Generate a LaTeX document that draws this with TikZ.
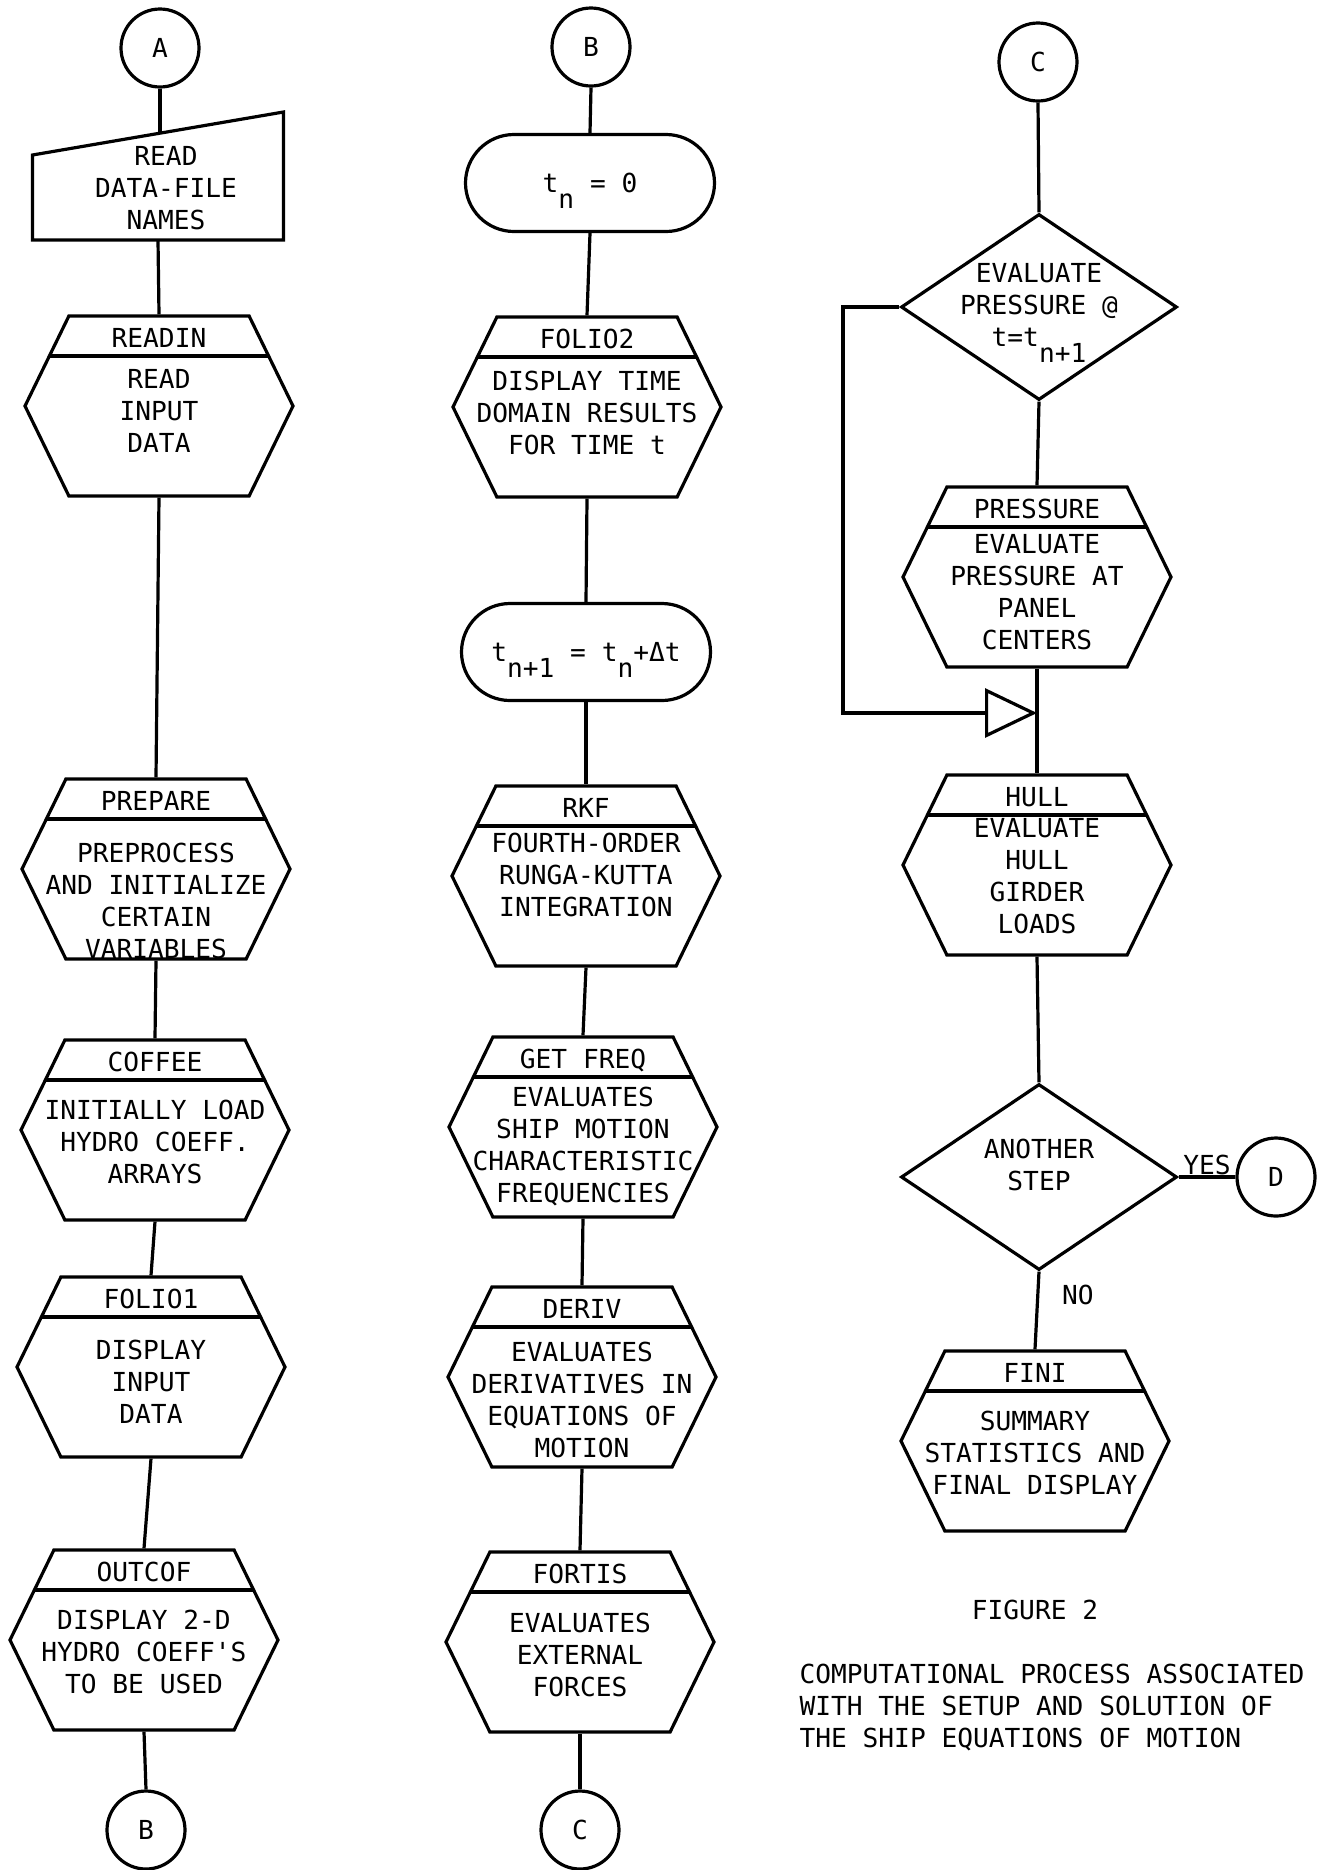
\documentclass[tikz,border=0pt]{standalone}
\usepackage{fontspec}
\setmainfont{DejaVu Sans Mono}
\usetikzlibrary{shapes.geometric,shapes.misc,shapes.symbols,arrows.meta,calc}

\newcommand{\lwr}[1]{\raisebox{-8pt}[0pt][0pt]{#1}}

\begin{document}
\begin{tikzpicture}[
    x=0.5pt, y=-0.5pt,
    line width=1.6pt,
    font=\fontsize{13.1pt}{16pt}\selectfont,
    conn/.style={circle, draw, minimum size=39pt, inner sep=0pt},
    term/.style={rounded rectangle, draw, minimum width=124.5pt, minimum height=48.5pt, inner sep=0pt},
    proc/.style={signal, signal to=west and east, signal pointer angle=128, draw, minimum width=134pt, minimum height=90pt, inner sep=0pt,
        path picture={\draw ([yshift=-20pt]path picture bounding box.north west) -- ([yshift=-20pt]path picture bounding box.north east);}},
    hdr/.style={anchor=north, inner sep=6pt},
    body/.style={align=center, inner sep=0pt},
    decide/.style={diamond, draw, minimum width=138pt, minimum height=93pt, inner sep=0pt},
    inbox/.style={rectangle, minimum width=125.5pt, minimum height=64pt, inner sep=0pt, outer sep=0pt}
]
\useasboundingbox (0,0) rectangle (1326,1870);

% first column
\node[conn] (capA) at (160,48) {A};
\node[inbox] (names) at (158,176) {};
\node[body] (names-t) at (166,188) {READ\\DATA-FILE\\NAMES};
\node[proc, label={[hdr]north:READIN}] (readin) at (159,406) {};
\node[body] (readin-t) at (159,411) {READ\\INPUT\\DATA};
\node[proc, label={[hdr]north:PREPARE}] (prepare) at (156,869) {};
\node[body] (prepare-t) at (156,901) {PREPROCESS\\AND INITIALIZE\\CERTAIN\\VARIABLES};
\node[proc, label={[hdr]north:COFFEE}] (coffee) at (155,1130) {};
\node[body] (coffee-t) at (155,1142) {INITIALLY LOAD\\HYDRO COEFF.\\ARRAYS};
\node[proc, label={[hdr]north:FOLIO1}] (folio1) at (151,1367) {};
\node[body] (folio1-t) at (151,1382) {DISPLAY\\INPUT\\DATA};
\node[proc, label={[hdr]north:OUTCOF}] (outcof) at (144,1640) {};
\node[body] (outcof-t) at (144,1652) {DISPLAY 2-D\\HYDRO COEFF\textquotesingle S\\TO BE USED};
\node[conn] (capB1) at (146,1830) {B};

% second column
\node[conn] (capB2) at (591,47) {B};
\node[term] (tzero) at (590,183) {t\lwr{n} = 0};
\node[proc, label={[hdr]north:FOLIO2}] (folio2) at (587,407) {};
\node[body] (folio2-t) at (587,413) {DISPLAY TIME\\DOMAIN RESULTS\\FOR TIME t};
\node[term] (tnext) at (586,652) {t\lwr{n+1} = t\lwr{n}+Δt};
\node[proc, label={[hdr]north:RKF}] (rkf) at (586,876) {};
\node[body] (rkf-t) at (586,875) {FOURTH-ORDER\\RUNGA-KUTTA\\INTEGRATION};
\node[proc, label={[hdr]north:GET FREQ}] (getfreq) at (583,1127) {};
\node[body] (getfreq-t) at (583,1146) {EVALUATES\\SHIP MOTION\\CHARACTERISTIC\\FREQUENCIES};
\node[proc, label={[hdr]north:DERIV}] (deriv) at (582,1377) {};
\node[body] (deriv-t) at (582,1400) {EVALUATES\\DERIVATIVES IN\\EQUATIONS OF\\MOTION};
\node[proc, label={[hdr]north:FORTIS}] (fortis) at (580,1642) {};
\node[body] (fortis-t) at (580,1655) {EVALUATES\\EXTERNAL\\FORCES};
\node[conn] (capC2) at (580,1830) {C};

% third column
\node[conn] (capC3) at (1038,62) {C};
\node[decide] (evalp) at (1039,307) {};
\node[body] (evalp-t) at (1039,305) {EVALUATE\\PRESSURE @\\t=t\lwr{n+1}};
\node[proc, label={[hdr]north:PRESSURE}] (pressure) at (1037,577) {};
\node[body] (pressure-t) at (1037,592) {EVALUATE\\PRESSURE AT\\PANEL\\CENTERS};
\node[proc, label={[hdr]north:HULL}] (hull) at (1037,865) {};
\node[body] (hull-t) at (1037,876) {EVALUATE\\HULL\\GIRDER\\LOADS};
\node[decide] (another) at (1039,1177) {};
\node[body] (another-t) at (1039,1165) {ANOTHER\\STEP};
\node[conn] (capD) at (1276,1177) {D};
\node[proc, label={[hdr]north:FINI}] (fini) at (1035,1441) {};
\node[body] (fini-t) at (1035,1453) {SUMMARY\\STATISTICS AND\\FINAL DISPLAY};

\node (fig) at (1035,1610) {FIGURE 2};
\node[align=left, anchor=north west, inner sep=0pt] (caption) at (798,1662) {COMPUTATIONAL PROCESS ASSOCIATED\\WITH THE SETUP AND SOLUTION OF\\THE SHIP EQUATIONS OF MOTION};

% manual input outline
\draw (names.south west) -- (names.south east) -- (names.north east) -- ($(names.north west)+(0,43)$) -- cycle;

\draw (capA) -- ($(names.north)+(2,21)$);
\draw (names.south) -- (readin.north);
\draw (readin.south) -- (prepare.north);
\draw (prepare.south) -- (coffee.north);
\draw (coffee.south) -- (folio1.north);
\draw (folio1.south) -- (outcof.north);
\draw (outcof.south) -- (capB1.north);

\draw (capB2.south) -- (tzero.north);
\draw (tzero.south) -- (folio2.north);
\draw (folio2.south) -- (tnext.north);
\draw (tnext.south) -- (rkf.north);
\draw (rkf.south) -- (getfreq.north);
\draw (getfreq.south) -- (deriv.north);
\draw (deriv.south) -- (fortis.north);
\draw (fortis.south) -- (capC2.north);

\draw (capC3.south) -- (evalp.north);
\draw (evalp.south) -- (pressure.north);
\draw (pressure.south) -- (hull.north);
\draw (hull.south) -- (another.north);
\draw (another.south) -- node[pos=0.3, right=8pt] (no) {NO} (fini.north);
\draw (another.east) -- node[above=0.5pt, inner sep=0pt] (yes) {YES} (capD.west);

\coordinate (loop) at (843,713);
\draw[-{Triangle[open, length=26pt, width=24.5pt]}] (evalp.west) -| (loop) -- (pressure.south |- loop);

\end{tikzpicture}
\end{document}
